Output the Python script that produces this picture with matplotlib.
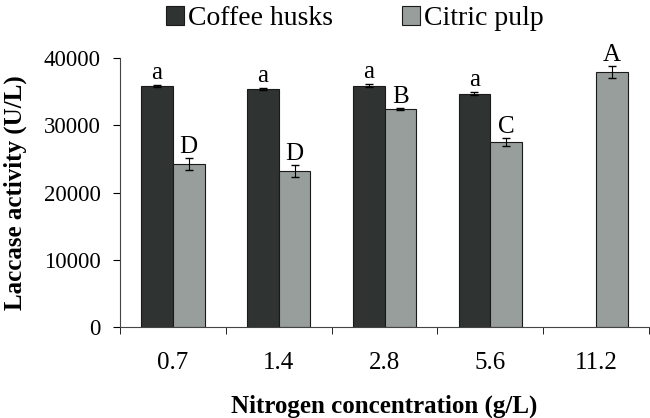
import matplotlib.pyplot as plt
import numpy as np

plt.rcParams['font.family'] = ['Liberation Serif', 'DejaVu Serif']

categories = ['0.7', '1.4', '2.8', '5.6', '11.2']
coffee = [35850, 35400, 35900, 34700, np.nan]
coffee_err = [200, 200, 200, 200, 0]
coffee_letters = ['a', 'a', 'a', 'a', '']
citric = [24300, 23200, 32400, 27500, 37900]
citric_err = [900, 900, 200, 600, 900]
citric_letters = ['D', 'D', 'B', 'C', 'A']

fig = plt.figure(figsize=(6.5, 4.18), dpi=100)
ax = fig.add_axes([0.1846, 0.2177, 0.814, 0.6435])

x = np.arange(len(categories))
w = 0.3
dark = '#2f3432'
grey = '#979e9b'
ax.bar(x - w / 2, coffee, w, color=dark, edgecolor='#1a1a1a', linewidth=0.8,
       yerr=coffee_err, error_kw=dict(ecolor='black', capsize=3, elinewidth=0.8),
       label='Coffee husks')
ax.bar(x + w / 2, citric, w, color=grey, edgecolor='#1a1a1a', linewidth=0.8,
       yerr=citric_err, error_kw=dict(ecolor='black', capsize=3, elinewidth=0.8),
       label='Citric pulp')

for i in range(len(categories)):
    if coffee_letters[i]:
        ax.text(x[i] - w / 2, coffee[i] + coffee_err[i] + 900, coffee_letters[i],
                ha='center', va='baseline', fontsize=18, clip_on=False)
    ax.text(x[i] + w / 2, citric[i] + citric_err[i] + 700, citric_letters[i],
            ha='center', va='baseline', fontsize=18, clip_on=False)

ax.set_xlim(-0.5, len(categories) - 0.5)
ax.set_ylim(0, 40000)
ax.set_yticks([0, 10000, 20000, 30000, 40000])
ax.set_xticks(x)
ax.set_xticklabels(categories, fontsize=18)
ax.set_xticks(np.arange(len(categories) + 1) - 0.5, minor=True)
ax.tick_params(axis='x', which='major', length=0, pad=18)
ax.tick_params(axis='x', which='minor', length=5, direction='out')
ax.tick_params(axis='y', length=5, direction='out', labelsize=16.5, pad=9)
for s in ['top', 'right']:
    ax.spines[s].set_visible(False)
for s in ['left', 'bottom']:
    ax.spines[s].set_color('#444444')

ax.set_xlabel('Nitrogen concentration (g/L)', fontsize=18, fontweight='bold', labelpad=15)
ax.set_ylabel('Laccase activity (U/L)', fontsize=18, fontweight='bold', labelpad=12)

fig.legend(loc='center', bbox_to_anchor=(0.546, 0.955), ncol=2, frameon=False,
           fontsize=20, handlelength=0.65, handleheight=0.65, handletextpad=0.15,
           columnspacing=2.5)

fig.savefig('out.png', dpi=100)
